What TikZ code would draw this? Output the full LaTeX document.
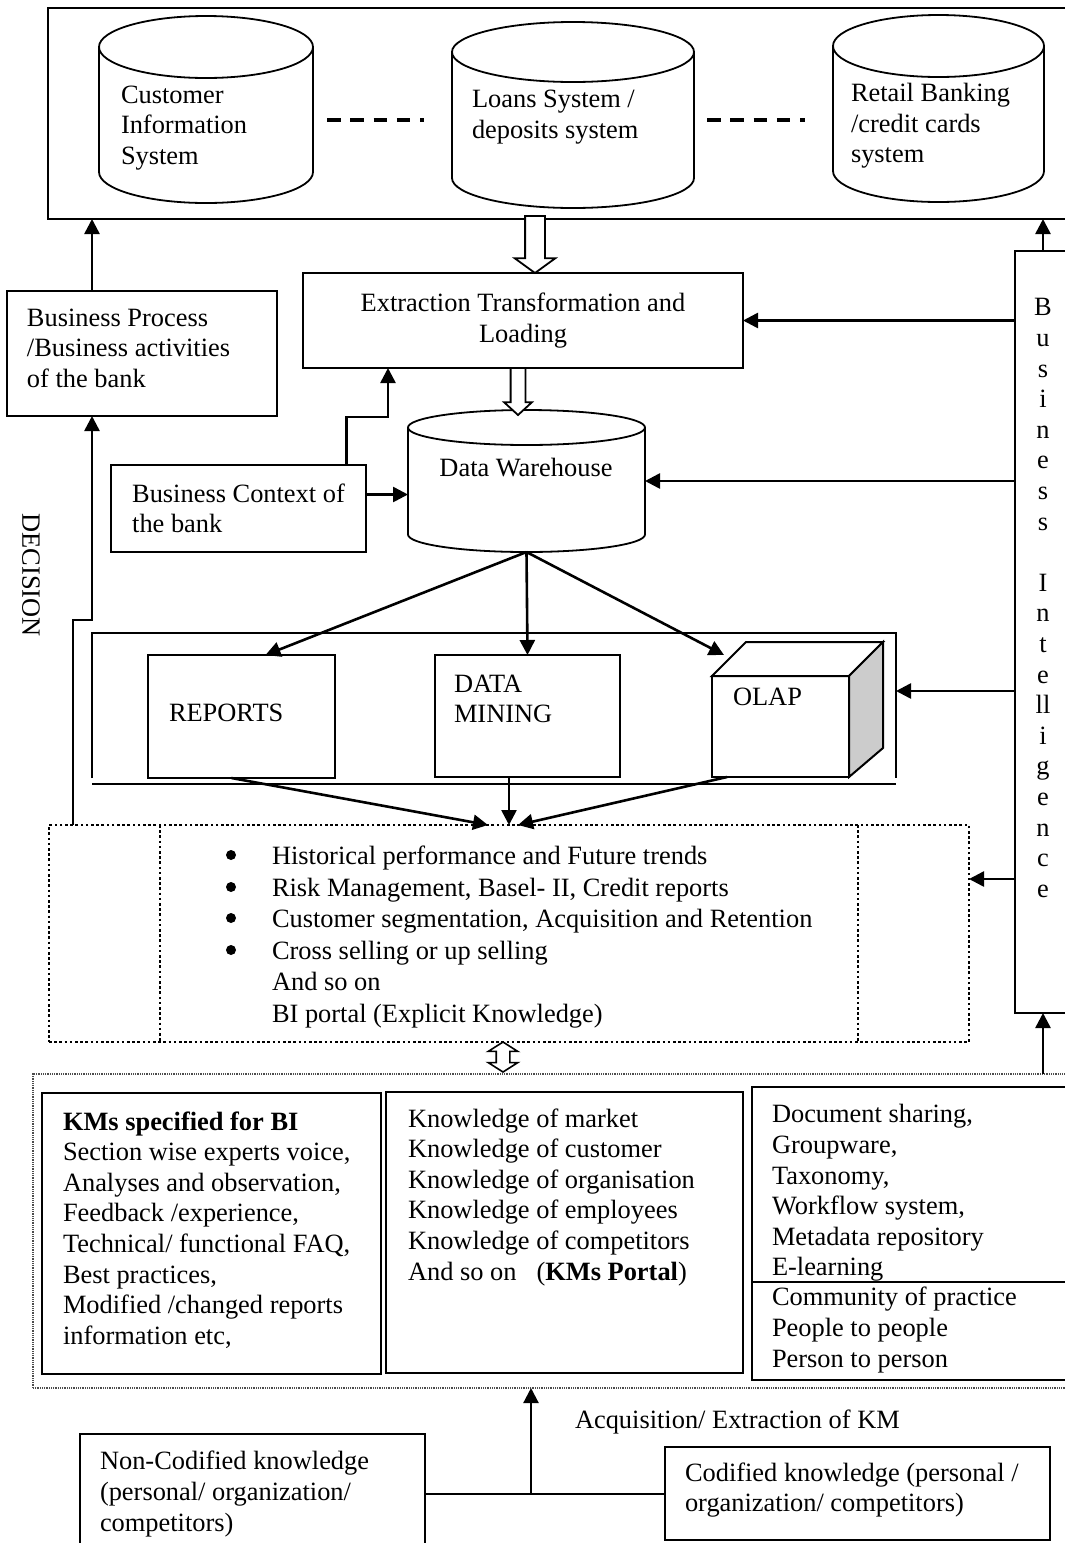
\documentclass[tikz,border=0pt]{standalone}
\usepackage{fontspec}
\setmainfont{Liberation Serif}
\usetikzlibrary{shapes.arrows,arrows.meta}

\tikzset{
  box/.style={draw, line width=2pt, anchor=north west, inner sep=0pt, outer sep=0pt},
  dbline/.style={line width=1.8pt},
  txt/.style={inner sep=0pt, outer sep=0pt, align=left, anchor=west},
  arr/.style={line width=2.6pt, -{Triangle[length=15pt,width=15pt]}},
  hollow/.style={single arrow, draw, fill=white, line width=1.8pt, rotate=-90, inner xsep=0pt, outer sep=0pt},
  dotbox/.style={draw, line width=2.6pt, dash pattern=on 2.6pt off 2.6pt},
  dashline/.style={line width=3.4pt, dash pattern=on 13.5pt off 9.8pt}
}
% name, centre, width, height, half height of the ends
\newcommand{\dbase}[5]{%
  \node[inner sep=0pt, outer sep=0pt, minimum width=#3, minimum height=#4] (#1) at (#2) {};
  \draw[dbline] ([yshift=-#5pt]#1.north west) -- ([yshift=#5pt]#1.south west)
    arc[start angle=180, end angle=0, x radius=#3/2, y radius=#5] -- ([yshift=-#5pt]#1.north east);
  \draw[dbline] ([yshift=-#5pt]#1.north) ellipse[x radius=#3/2, y radius=#5];
}

\begin{document}
\begin{tikzpicture}[x=1pt, y=-1pt, font=\fontsize{26.4}{30.6}\selectfont]
\useasboundingbox (0,0) rectangle (1065,1543);

\node[box, minimum width=1030, minimum height=211] (sys) at (48,8) {};
\dbase{cis}{206,109.5}{214}{187}{31}
\dbase{loans}{573,115}{242}{186}{30}
\dbase{retail}{938.5,108.5}{211}{187}{31}
\node[txt] (cist) at (121,128) {Customer\\Information\\System};
\node[txt] (loanst) at (472,117) {Loans System /\\deposits system};
\node[txt] (retailt) at (851,126) {Retail Banking\\/credit cards\\system};
\draw[dashline] ([xshift=14pt,yshift=-10.5pt]cis.east) -- +(97,0);
\draw[dashline] ([xshift=13pt,yshift=-5pt]loans.east) -- +(97.5,0);

\node[box, minimum width=270, minimum height=125] (bp) at (7,291) {};
\node[txt] (bpt) at (27,348) {Business Process\\/Business activities\\of the bank};
\node[box, align=center, minimum width=440, minimum height=95] (etl) at (303,273) {Extraction Transformation and\\Loading};
\dbase{dw}{526.5,481}{237}{142}{17.5}
\node[inner sep=0pt] (dwt) at (526,468) {Data Warehouse};
\node[box, align=left, minimum width=255, minimum height=87] (bc) at (111,465) {Business Context of\\the bank};
\node[hollow, minimum height=57, inner ysep=9pt, single arrow head extend=10.5pt, single arrow tip angle=108, anchor=tip] (etlin) at ([xshift=12pt]etl.north) {};
\node[hollow, minimum height=47, inner ysep=6.5pt, single arrow head extend=6.5pt, single arrow tip angle=95, anchor=tail] (etlout) at ([xshift=-5pt]etl.south) {};

\node[box, minimum width=56, minimum height=762] (bi) at (1015,251) {};
\node[align=center, inner sep=0pt] (bit) at (1043,598) {B\\u\\s\\i\\n\\e\\s\\s\\\mbox{}\\I\\n\\t\\e\\ll\\i\\g\\e\\n\\c\\e};
\node[rotate=-90, inner sep=0pt] (dec) at (31,575) {DECISION};

\draw[line width=2pt] (92,778) -- (92,633) -- (896,633) -- (896,778);
\draw[line width=2pt] (92,784) -- (896,784);
\coordinate (toolsE) at (896,691);
\node[box, minimum width=187, minimum height=123] (rep) at (148,655) {};
\node[box, minimum width=185, minimum height=122] (dm) at (435,655) {};
\node[box, minimum width=137, minimum height=101] (olap) at (712,676) {};
\draw[line width=2pt] (olap.north west) -- ++(34,-34) -- ++(137,0) -- (olap.north east) -- cycle;
\draw[line width=2pt, fill=black!20] (olap.north east) -- ++(34,-34) -- ++(0,106) -- (olap.south east) -- cycle;
\node[txt] (rept) at (169,713) {REPORTS};
\node[txt] (dmt) at (454,699) {DATA\\MINING};
\node[txt] (olapt) at (733,697) {OLAP};

\node[dotbox, anchor=north west, minimum width=920, minimum height=217, inner sep=0pt, outer sep=0pt] (bip) at (49,825) {};
\draw[dotbox] ([xshift=111pt]bip.north west) -- ([xshift=111pt]bip.south west);
\draw[dotbox] ([xshift=-111pt]bip.north east) -- ([xshift=-111pt]bip.south east);
\coordinate (bipE) at ([yshift=54.5pt]bip.east);
\foreach \y in {855,887,918,950}
  \fill (231,\y) circle (5);
\node[txt, font=\fontsize{26.4}{31.6}\selectfont] (bipt) at (272,937) {Historical performance and Future trends\\Risk Management, Basel- II, Credit reports\\Customer segmentation, Acquisition and Retention\\Cross selling or up selling\\And so on\\BI portal (Explicit Knowledge)};
\node[double arrow, draw, fill=white, line width=1.6pt, rotate=90, minimum height=30, inner xsep=0pt, inner ysep=6pt, double arrow head extend=8pt, double arrow tip angle=115] (bikm) at ([shift={(-6pt,-15pt)}]bip.south) {};

\node[box, draw=black!70, line width=1.8pt, dash pattern=on 0.9pt off 0.9pt, minimum width=1040, minimum height=314] (km) at (33,1074) {};
\node[box, minimum width=339, minimum height=281] (kmbi) at (42,1093) {};
\node[box, minimum width=357, minimum height=281] (kmport) at (386,1092) {};
\node[box, minimum width=320, minimum height=293] (kmtool) at (752,1087) {};
\draw[line width=2pt] ([yshift=-195pt]kmtool.north west) -- ([yshift=-195pt]kmtool.north east);
\node[txt] (kmbit) at (63,1230) {\textbf{KMs specified for BI}\\Section wise experts voice,\\Analyses and observation,\\Feedback /experience,\\Technical/ functional FAQ,\\Best practices,\\Modified /changed reports\\information etc,};
\node[txt] (kmportt) at (408,1197) {Knowledge of market\\Knowledge of customer\\Knowledge of organisation\\Knowledge of employees\\Knowledge of competitors\\And so on\hspace{20pt}(\textbf{KMs Portal})};
\node[txt] (kmtoolt) at (772,1193) {Document sharing,\\Groupware,\\Taxonomy,\\Workflow system,\\Metadata repository\\E-learning};
\node[txt] (kmcopt) at (772,1330) {Community of practice\\People to people\\Person to person};

\node[box, minimum width=345, minimum height=120] (ncod) at (80,1434) {};
\node[box, minimum width=385, minimum height=93] (cod) at (665,1447) {};
\node[txt] (ncodt) at (100,1494) {Non-Codified knowledge\\(personal/ organization/\\competitors)};
\node[txt] (codt) at (685,1490) {Codified knowledge (personal /\\organization/ competitors)};
\node[txt] (acq) at (575,1422) {Acquisition/ Extraction of KM};
\draw[line width=2pt] (ncod.east) -- (ncod.east -| cod.west);
\coordinate (junc) at ([xshift=106pt]ncod.east);
\draw[arr, line width=2.2pt] (junc) -- (junc |- km.south);

\draw[arr] ([xshift=-50pt]bp.north) -- ([xshift=-50pt]bp.north |- sys.south);
\draw[arr] (bi.north) -- (bi.north |- sys.south);
\draw[arr] (bi.west |- etl.east) -- (etl.east);
\draw[arr] (bi.west |- dw.east) -- (dw.east);
\draw[arr] (bi.west |- toolsE) -- (toolsE);
\draw[arr] (bi.west |- bipE) -- (bipE);
\draw[arr] (bi.south |- km.north) -- (bi.south);
\draw[arr] ([yshift=14pt]bc.east) -- ([yshift=14pt]bc.east -| dw.west);
\draw[arr] ([xshift=108pt]bc.north) -- ++(0,-48) -| ([xshift=-135pt]etl.south);
\draw[arr] ([xshift=24pt]bip.north west) -- ++(0,-205) -| ([xshift=-50pt]bp.south);
\draw[arr] (dw.south) -- ([xshift=24pt]rep.north);
\draw[arr] (dw.south) -- (dm.north);
\draw[arr] (dw.south) -- ([shift={(12pt,21pt)}]olap.north west);
\draw[arr] ([xshift=-10pt]rep.south) -- ([xshift=-21pt]bip.north);
\draw[arr] (dm.south -| bip.north) -- (bip.north);
\draw[arr] ([xshift=15pt]olap.south west) -- ([xshift=9pt]bip.north);
\end{tikzpicture}
\end{document}
